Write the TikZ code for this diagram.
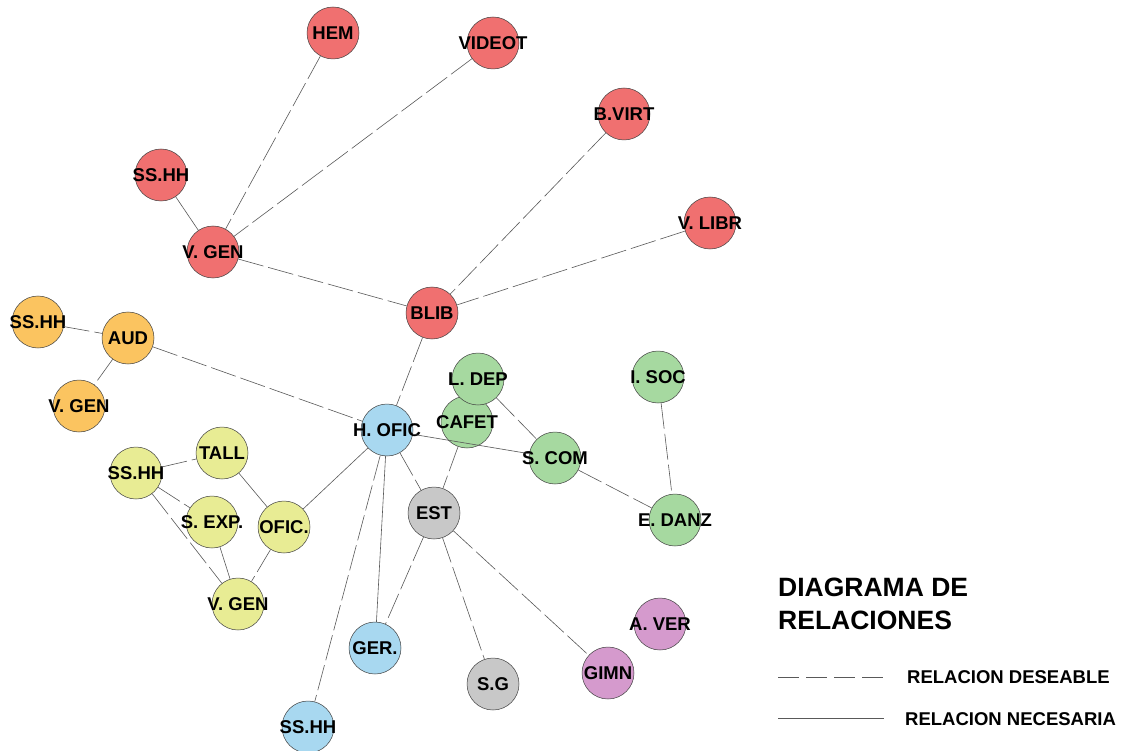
\documentclass[tikz,border=0pt]{standalone}
\usepackage{fontspec}
\setmainfont{Liberation Sans}
\begin{document}
\begin{tikzpicture}[x=1pt,y=-1pt,
  zone/.style={circle,draw=black!75,line width=0.5pt,minimum size=52pt,inner sep=0pt,
    label={[font=\fontsize{18.5}{18.5}\selectfont\bfseries,text=black]center:#1}},
  rzone/.style={zone=#1,fill={rgb,255:red,240;green,112;blue,112}},
  ozone/.style={zone=#1,fill={rgb,255:red,251;green,196;blue,96}},
  yzone/.style={zone=#1,fill={rgb,255:red,232;green,236;blue,148}},
  gzone/.style={zone=#1,fill={rgb,255:red,166;green,217;blue,160}},
  bzone/.style={zone=#1,fill={rgb,255:red,168;green,216;blue,240}},
  grzone/.style={zone=#1,fill={rgb,255:red,200;green,200;blue,200}},
  pzone/.style={zone=#1,fill={rgb,255:red,213;green,154;blue,205}},
  des/.style={draw=black!65,line width=0.6pt,dash pattern=on 26pt off 5pt},
  nec/.style={draw=black!65,line width=0.6pt},
  legtxt/.style={font=\fontsize{18.5}{18.5}\selectfont\bfseries,anchor=west,inner sep=0pt}
]
\useasboundingbox[fill=white] (0,0) rectangle (1126,751);

% red group
\node[rzone=HEM] (hem) at (333,33) {};
\node[rzone=VIDEOT] (videot) at (493,43) {};
\node[rzone=B.VIRT] (bvirt) at (624,114) {};
\node[rzone=SS.HH] (sshhr) at (161,175) {};
\node[rzone=V. GEN] (vgenr) at (213,252) {};
\node[rzone=V. LIBR] (vlibr) at (710,223) {};
\node[rzone=BLIB] (blib) at (432,313) {};

% orange group
\node[ozone=SS.HH] (sshho) at (38,322) {};
\node[ozone=AUD] (aud) at (128,338) {};
\node[ozone=V. GEN] (vgeno) at (79,406) {};

% yellow group
\node[yzone=SS.HH] (sshhy) at (136,473) {};
\node[yzone=TALL] (tall) at (222,453) {};
\node[yzone=S. EXP.] (sexp) at (212,522) {};
\node[yzone=OFIC.] (ofic) at (284,527) {};
\node[yzone=V. GEN] (vgeny) at (238,604) {};

% blue group
\node[bzone=H. OFIC] (hofic) at (387,430) {};
\node[bzone=GER.] (ger) at (375,648) {};
\node[bzone=SS.HH] (sshhb) at (308,727) {};

% green group
\node[gzone=CAFET] (cafet) at (467,422) {};
\node[gzone=L. DEP] (ldep) at (478,379) {};
\node[gzone=S. COM] (scom) at (555,458) {};
\node[gzone=I. SOC] (isoc) at (658,377) {};
\node[gzone=E. DANZ] (edanz) at (675,520) {};

% gray group
\node[grzone=EST] (est) at (434,513) {};
\node[grzone=S.G] (sg) at (493,684) {};

% purple group
\node[pzone=GIMN] (gimn) at (608,673) {};
\node[pzone=A. VER] (aver) at (660,624) {};

% connectors
\draw[des] (hem) -- (vgenr);
\draw[des] (videot) -- (vgenr);
\draw[nec] (sshhr) -- (vgenr);
\draw[des] (vgenr) -- (blib);
\draw[des] (bvirt) -- (blib);
\draw[des] (vlibr) -- (blib);
\draw[des] (blib) -- (hofic);
\draw[des] (sshho) -- (aud);
\draw[des] (aud) -- (vgeno);
\draw[des] (aud) -- (hofic);
\draw[des] (sshhy) -- (tall);
\draw[des] (sshhy) -- (sexp);
\draw[des] (sshhy) -- (vgeny);
\draw[nec] (sexp) -- (vgeny);
\draw[des] (ofic) -- (vgeny);
\draw[nec] (tall) -- (ofic);
\draw[nec] (ofic) -- (hofic);
\draw[nec] (hofic) -- (scom);
\draw[des] (scom) -- (edanz);
\draw[des] (ldep) -- (scom);
\draw[des] (isoc) -- (edanz);
\draw[des] (cafet) -- (est);
\draw[des] (hofic) -- (est);
\draw[nec] (hofic) -- (ger);
\draw[des] (hofic) -- (sshhb);
\draw[des] (est) -- (ger);
\draw[des] (est) -- (sg);
\draw[des] (est) -- (gimn);

% legend
\node[font=\fontsize{26.5}{33}\selectfont\bfseries,anchor=north west,align=left,inner sep=0pt] (title) at (778,578) {DIAGRAMA DE\\RELACIONES};
\coordinate (d1) at (778,677);
\coordinate (d2) at (884,677);
\coordinate (n1) at (778,718);
\coordinate (n2) at (884,718);
\draw[draw=black!65,line width=0.6pt,dash pattern=on 21pt off 7pt] (d1) -- (d2);
\draw[nec] (n1) -- (n2);
\node[legtxt] (ld) at (907,677) {RELACION DESEABLE};
\node[legtxt] (ln) at (905,719) {RELACION NECESARIA};
\end{tikzpicture}
\end{document}
